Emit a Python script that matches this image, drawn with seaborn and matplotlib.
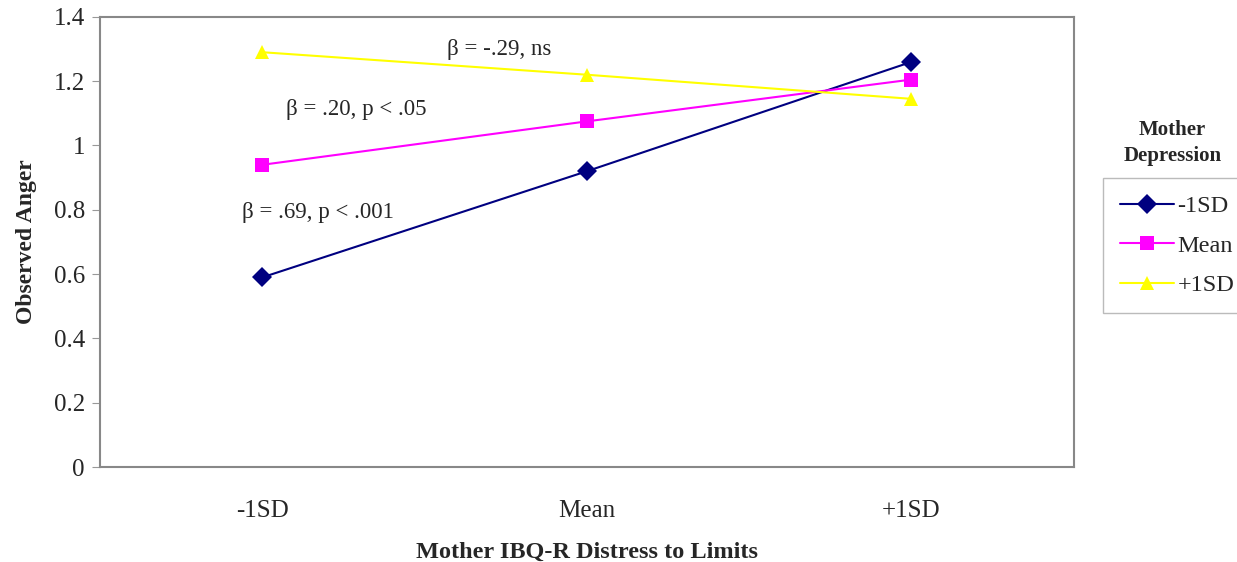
import pandas as pd
import seaborn as sns
import matplotlib.pyplot as plt
from matplotlib.ticker import FuncFormatter, FixedLocator

# values
distress = ['-1SD', 'Mean', '+1SD']
depression_groups = ['-1SD', 'Mean', '+1SD']
anger_low = [0.59, 0.92, 1.26]
anger_mean = [0.94, 1.075, 1.205]
anger_high = [1.29, 1.22, 1.145]
colors = ['#000080', '#FF00FF', '#FFFF00']
markers = ['D', 's', '^']

rows = []
for grp, vals in zip(depression_groups, [anger_low, anger_mean, anger_high]):
    for d, v in zip(distress, vals):
        rows.append({'distress': d, 'anger': v, 'depression': grp})
df = pd.DataFrame(rows)

sns.set_style('white')
plt.rcParams['font.family'] = ['Liberation Serif', 'DejaVu Serif']

fig = plt.figure(figsize=(12.37, 5.62), dpi=100)
ax = fig.add_axes([0.081, 0.169, 0.787, 0.801])

sns.lineplot(data=df, x='distress', y='anger', hue='depression', style='depression',
             hue_order=depression_groups, style_order=depression_groups,
             palette=colors, markers=markers, dashes=False, markersize=10,
             markeredgewidth=0, linewidth=1.5, sort=False, ax=ax)

ax.set_xlim(-0.5, 2.5)
ax.set_ylim(0, 1.4)
ax.set_yticks([0, 0.2, 0.4, 0.6, 0.8, 1.0, 1.2, 1.4])
ax.yaxis.set_major_formatter(FuncFormatter(lambda v, p: f'{v:g}'))
ax.set_xticks([0, 1, 2])
ax.set_xticklabels(distress)
ax.xaxis.set_minor_locator(FixedLocator([-0.5, 0.5, 1.5, 2.5]))
ax.tick_params(axis='x', which='major', length=0, pad=24, labelsize=18)
ax.tick_params(axis='x', which='minor', length=6, color='#999999', direction='out')
ax.tick_params(axis='y', length=6, color='#999999', direction='out', left=True,
               labelsize=18, pad=5)

for s in ax.spines.values():
    s.set_color('#888888')
    s.set_linewidth(1.5)

ax.set_xlabel('Mother IBQ-R Distress to Limits', fontsize=17.5, fontweight='bold', labelpad=14)
ax.set_ylabel('Observed Anger', fontsize=17, fontweight='bold', labelpad=12)

ax.text(0.73, 1.297, 'β = -.29, ns', fontsize=16.5, ha='center', va='center')
ax.text(0.29, 1.111, 'β = .20, p < .05', fontsize=16.5, ha='center', va='center')
ax.text(0.17, 0.793, 'β = .69, p < .001', fontsize=16.5, ha='center', va='center')

handles, labels = ax.get_legend_handles_labels()
ax.legend_.remove()
leg = fig.legend(handles, labels, loc='upper left', bbox_to_anchor=(0.892, 0.683),
                 frameon=True, fancybox=False, edgecolor='#aaaaaa', fontsize=17.5,
                 handlelength=2.2, borderpad=0.7, borderaxespad=0, labelspacing=0.72,
                 handletextpad=0.15)
fig.text(0.948, 0.745, 'Mother\nDepression', ha='center', va='center',
         fontsize=15, fontweight='bold', linespacing=1.4)

fig.savefig('out.png', dpi=100)
